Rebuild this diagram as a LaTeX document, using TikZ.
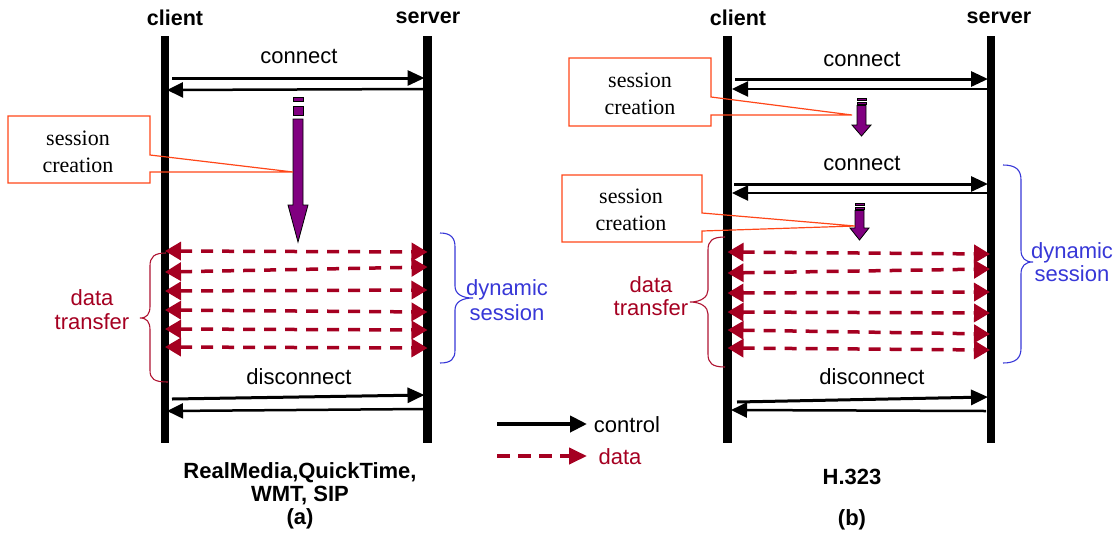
\documentclass[tikz,border=0pt]{standalone}
\usepackage{fontspec}
\setmainfont{Liberation Serif}
\newfontfamily\arial{Liberation Sans}
\usetikzlibrary{arrows.meta}
\definecolor{datared}{RGB}{165,0,33}
\definecolor{bracered}{RGB}{175,20,50}
\definecolor{sessblue}{RGB}{55,55,215}
\definecolor{calloutred}{RGB}{255,70,25}
\definecolor{procpurple}{RGB}{128,0,128}
\tikzset{
  lifeline/.style={line width=8.5pt},
  headtext/.style={font=\arial\bfseries\fontsize{21.5}{23}\selectfont, inner sep=0pt, align=center},
  msgtext/.style={font=\arial\fontsize{22}{24}\selectfont, inner sep=0pt, align=center},
  boxtext/.style={font=\fontsize{22}{27}\selectfont, inner sep=0pt, align=center},
  ctrl/.style={line width=3pt, -{Triangle[length=17pt,width=15pt]}},
  ctrlback/.style={line width=2.5pt, -{Triangle[length=16pt,width=15pt]}},
  datamsg/.style={datared, line width=3.5pt, dash pattern=on 12pt off 9pt,
    {Triangle[length=16pt,width=18pt]}-{Triangle[length=16pt,width=18pt]}},
  callout/.style={calloutred, line width=1.2pt, line join=miter},
  proc/.style={fill=procpurple, draw=black, line width=0.8pt, line join=miter},
  redbrace/.style={bracered, line width=1.1pt},
  bluebrace/.style={sessblue, line width=1.1pt},
}
\begin{document}
\begin{tikzpicture}[x=1pt,y=-1pt]
\useasboundingbox (0,0) rectangle (1115,536);

% ---------- lifeline positions ----------
\coordinate (ca) at (165,0);
\coordinate (sa) at (427.5,0);
\coordinate (cb) at (727.5,0);
\coordinate (sb) at (991,0);

\draw[lifeline] ([shift={(0,36)}]ca) -- ([shift={(0,443)}]ca);
\draw[lifeline] ([shift={(0,36)}]sa) -- ([shift={(0,443)}]sa);
\draw[lifeline] ([shift={(0,36)}]cb) -- ([shift={(0,443)}]cb);
\draw[lifeline] ([shift={(0,36)}]sb) -- ([shift={(0,443)}]sb);

\node[headtext] (hca) at (175,18) {client};
\node[headtext] (hsa) at (428,18) {server};
\node[headtext] (hcb) at (738,18) {client};
\node[headtext] (hsb) at (999,18) {server};

% ================= panel (a) =================
\node[msgtext] (conA) at (299,56) {connect};
\draw[ctrl] ([shift={(7,78)}]ca) -- ([shift={(-3,78)}]sa);
\draw[ctrlback] ([shift={(-2,89)}]sa) -- ([shift={(2,90)}]ca);

% session creation (long)
\draw[proc] (293,97) rectangle (303,101);
\draw[proc] (293,106) rectangle (303,115);
\draw[proc] (293,119) -- (303,119) -- (303,205) -- (308,205) -- (298,242)
  -- (288,205) -- (293,205) -- cycle;
\coordinate (ptA) at (293,172);
\node[boxtext] (scA) at (78,151.5) {session\\creation};
\draw[callout] (8,116) -- (150,116) -- (150,155) -- (ptA) -- (150,172)
  -- (150,183) -- (8,183) -- cycle;

% data transfer
\foreach \l/\r in {251/252, 272/267, 291/290, 310/312, 329/330, 347/348}
  \draw[datamsg] ([shift={(0,\l)}]ca) -- ([shift={(0,\r)}]sa);

\draw[redbrace] (166,253) .. controls (154,253) and (150,257) .. (150,266)
  -- (150,306) .. controls (150,314) and (147,318) .. (140,318)
  .. controls (147,318) and (150,322) .. (150,330)
  -- (150,370) .. controls (150,379) and (154,382) .. (168,382);
\node[msgtext, text=datared] (dtA) at (92,310) {data\\transfer};

\draw[bluebrace] (440,233) .. controls (451,233) and (455,238) .. (455,247)
  -- (455,286) .. controls (455,294) and (462,298) .. (473,298)
  .. controls (462,298) and (455,302) .. (455,310)
  -- (455,350) .. controls (455,359) and (451,363) .. (440,363);
\node[msgtext, text=sessblue, font=\arial\fontsize{22}{25}\selectfont] (dsA) at (507,300.5) {dynamic\\session};

\node[msgtext] (disA) at (299,377) {disconnect};
\draw[ctrl] ([shift={(7,399)}]ca) -- ([shift={(-3,395)}]sa);
\draw[ctrlback] ([shift={(-4,409)}]sa) -- ([shift={(2,411)}]ca);

\node[headtext, font=\arial\bfseries\fontsize{22}{23}\selectfont] (capA) at (300,496)
  {RealMedia,QuickTime,\\WMT, SIP\\(a)};

% ================= panel (b) =================
\node[msgtext] (conB1) at (862,59) {connect};
\draw[ctrl] ([shift={(7.5,79)}]cb) -- ([shift={(-3,79)}]sb);
\draw[ctrlback] ([shift={(-3,89)}]sb) -- ([shift={(4.5,89)}]cb);

\draw[proc] (857,98) rectangle (866,100.5);
\draw[proc] (857,102) rectangle (866,104);
\draw[proc] (857,105.5) -- (866,105.5) -- (866,125) -- (871,125) -- (861.5,136)
  -- (852,125) -- (857,125) -- cycle;
\coordinate (ptB1) at (852,115);
\node[boxtext] (scB1) at (640,94) {session\\creation};
\draw[callout] (569,58) -- (711,58) -- (711,97) -- (ptB1) -- (711,115)
  -- (711,126) -- (569,126) -- cycle;

\node[msgtext] (conB2) at (862,163) {connect};
\draw[ctrl] ([shift={(6.5,184)}]cb) -- ([shift={(-3,184)}]sb);
\draw[ctrlback] ([shift={(-3,193)}]sb) -- ([shift={(4.5,193)}]cb);

\draw[proc] (855,203) rectangle (864,205.5);
\draw[proc] (855,207) rectangle (864,209);
\draw[proc] (855,210.5) -- (864,210.5) -- (864,228) -- (869,228) -- (859.5,240)
  -- (850,228) -- (855,228) -- cycle;
\coordinate (ptB2) at (855,226);
\node[boxtext] (scB2) at (631,209.5) {session\\creation};
\draw[callout] (562,175) -- (702,175) -- (702,213) -- (ptB2) -- (702,231)
  -- (702,242) -- (562,242) -- cycle;

\foreach \l/\r in {252/254, 273/269, 293/292, 312/313, 330/334, 348/350}
  \draw[datamsg] ([shift={(0,\l)}]cb) -- ([shift={(-1,\r)}]sb);

\draw[redbrace] (725,237) .. controls (712,237) and (708,241) .. (708,250)
  -- (708,290) .. controls (708,297) and (701,302) .. (690,302)
  .. controls (701,302) and (708,307) .. (708,314)
  -- (708,354) .. controls (708,363) and (712,367) .. (725,367);
\node[msgtext, text=datared, font=\arial\fontsize{22}{23}\selectfont] (dtB) at (651,296.5) {data\\transfer};

\draw[bluebrace] (1003,165) .. controls (1016,165) and (1021,170) .. (1021,180)
  -- (1021,250) .. controls (1021,258) and (1025,262) .. (1033,262)
  .. controls (1025,262) and (1021,266) .. (1021,274)
  -- (1021,348) .. controls (1021,358) and (1016,363) .. (1003,363);
\node[msgtext, text=sessblue, font=\arial\fontsize{22}{23}\selectfont] (dsB) at (1072,262) {dynamic\\session};

\node[msgtext] (disB) at (872,377) {disconnect};
\draw[ctrl] ([shift={(9.5,402)}]cb) -- ([shift={(-3,397)}]sb);
\draw[ctrlback] ([shift={(-5,411)}]sb) -- ([shift={(3.5,410)}]cb);

\node[headtext, font=\arial\bfseries\fontsize{22}{23}\selectfont] (capB1) at (852,477) {H.323};
\node[headtext, font=\arial\bfseries\fontsize{22}{23}\selectfont] (capB2) at (852,520) {(b)};

% ================= legend =================
\coordinate (lgc1) at (497,424);
\coordinate (lgc2) at (587,424);
\coordinate (lgd1) at (497,456);
\coordinate (lgd2) at (587,456);
\draw[line width=4pt, -{Triangle[length=17pt,width=16pt]}] (lgc1) -- (lgc2);
\draw[datared, line width=4pt, dash pattern=on 13pt off 8pt, -{Triangle[length=18pt,width=16pt]}] (lgd1) -- (lgd2);
\node[msgtext] (lgct) at (627,425) {control};
\node[msgtext, text=datared] (lgdt) at (620,457) {data};

\end{tikzpicture}
\end{document}
